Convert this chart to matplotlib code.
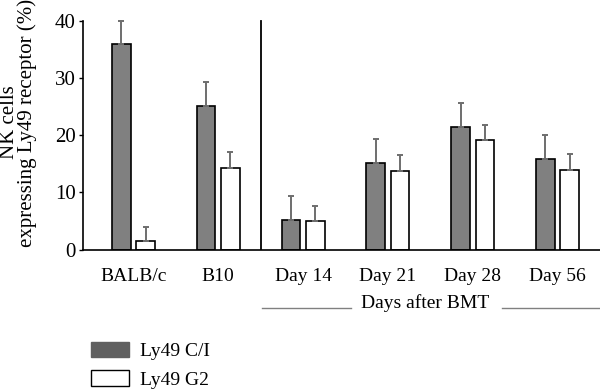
import numpy as np
import matplotlib
matplotlib.use('Agg')
import matplotlib.pyplot as plt
from matplotlib.patches import Patch

plt.rcParams['font.family'] = 'Liberation Serif'
plt.rcParams['font.size'] = 14

groups = ['BALB/c', 'B10', 'Day 14', 'Day 21', 'Day 28', 'Day 56']
ly49_ci = [36.0, 25.1, 5.1, 15.1, 21.5, 15.9]
ly49_ci_err = [4.1, 4.2, 4.3, 4.3, 4.2, 4.2]
ly49_g2 = [1.5, 14.2, 5.0, 13.8, 19.1, 14.0]
ly49_g2_err = [2.5, 2.8, 2.7, 2.8, 2.7, 2.7]
series_labels = ['Ly49 C/I', 'Ly49 G2']
yticks = [0, 10, 20, 30, 40]

fig = plt.figure(figsize=(6, 3.92), dpi=100)
ax = fig.add_axes([0.1375, 0.3635, 0.8625, 0.597])

x = np.arange(len(groups))
w = 0.22
off = 0.143
err_kw = dict(ecolor='#6e6e6e', elinewidth=1.4, capsize=2.2, capthick=1.4)

ax.bar(x - off, ly49_ci, width=w, color='#808080', edgecolor='black', linewidth=1.2,
       yerr=[np.zeros(len(x)), ly49_ci_err], error_kw=err_kw)
ax.bar(x + off, ly49_g2, width=w, color='white', edgecolor='black', linewidth=1.2,
       yerr=[np.zeros(len(x)), ly49_g2_err], error_kw=err_kw)

# divider between controls and post-BMT days
ax.plot([1.5, 1.5], [0, 40], color='black', lw=1.3)

ax.set_xlim(-0.6, 5.5)
ax.set_ylim(0, 41)
ax.set_yticks(yticks)
ax.set_xticks(x)
ax.set_xticklabels(groups)
ax.tick_params(axis='x', length=0, pad=13)
ax.tick_params(axis='y', length=3, width=1, pad=2, labelsize=15)
ax.spines['top'].set_visible(False)
ax.spines['right'].set_visible(False)
ax.spines['left'].set_bounds(0, 40)
ax.spines['left'].set_linewidth(1.2)
ax.spines['bottom'].set_linewidth(1.2)

ax.set_ylabel('NK cells\nexpressing Ly49 receptor (%)', linespacing=0.85, fontsize=15)
ax.yaxis.set_label_coords(-0.088, 0.5425)

# "Days after BMT" bracket
trans = ax.get_xaxis_transform()
ax.text(3.44, -0.23, 'Days after BMT', transform=trans, ha='center', va='center')
ax.plot([1.52, 2.56], [-0.25, -0.25], transform=trans, color='#808080', lw=1, clip_on=False)
ax.plot([4.35, 5.5], [-0.25, -0.25], transform=trans, color='#808080', lw=1, clip_on=False)

handles = [Patch(facecolor='#606060', edgecolor='#606060'),
           Patch(facecolor='white', edgecolor='black')]
fig.legend(handles, series_labels, loc='upper left', bbox_to_anchor=(0.151, 0.1285),
           frameon=False, handlelength=1.95, handleheight=0.85, handletextpad=0.6,
           labelspacing=0.53, borderpad=0, borderaxespad=0)

fig.savefig('out.png', dpi=100)
